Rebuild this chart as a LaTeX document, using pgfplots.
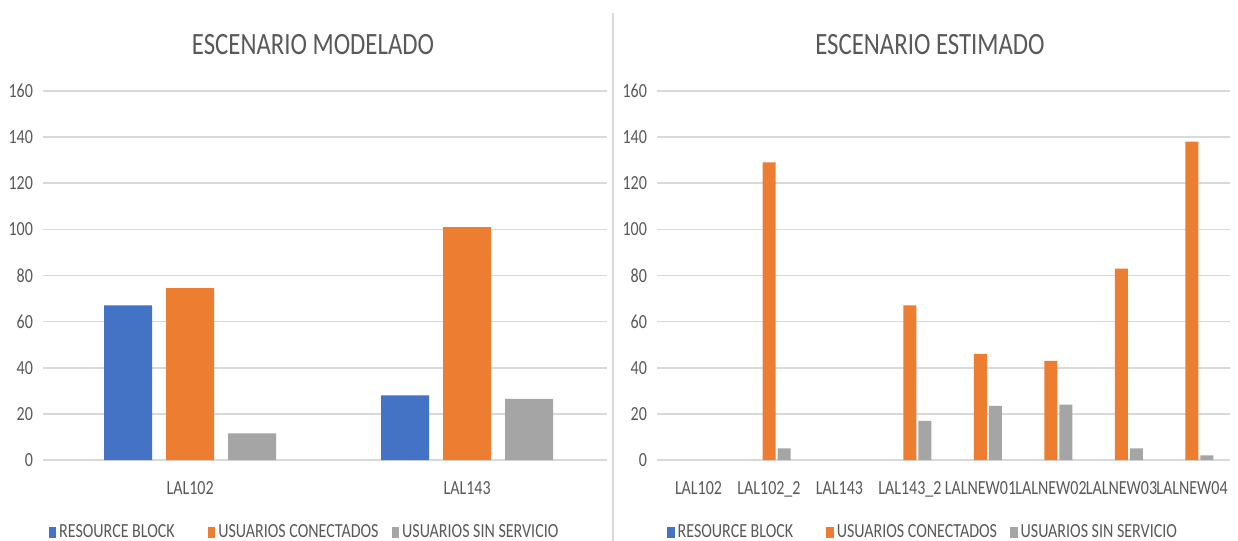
\documentclass[border=0pt]{standalone}
\usepackage{pgfplots}
\pgfplotsset{compat=1.18}
\usepackage{fontspec}
\setmainfont{Carlito}[FakeStretch=0.8]
\definecolor{cblue}{HTML}{4472C4}
\definecolor{corange}{HTML}{ED7D31}
\definecolor{cgray}{HTML}{A5A5A5}
\definecolor{gridgray}{HTML}{D9D9D9}
\definecolor{txtgray}{HTML}{595959}
\pgfplotsset{
  excelstyle/.style={
    scale only axis,
    anchor=south west,
    ymin=0, ymax=160,
    ytick={0,20,...,160},
    ymajorgrids,
    grid style={gridgray, line width=0.8pt},
    axis line style={draw=none},
    major tick length=0pt,
    tick style={draw=none},
    /pgf/number format/assume math mode=true,
    ticklabel style={text=txtgray, font=\fontsize{10}{12}\selectfont},
    yticklabel style={xshift=-1.5pt},
    xticklabel style={yshift=-7pt},
    legend columns=3,
    legend cell align=left,
    legend style={draw=none, fill=none, at={(0.5,0)}, anchor=north, xshift=-10pt, yshift=-30.5pt,
      font=\fontsize{10}{12}\selectfont, text=txtgray, inner sep=0pt,
      nodes={inner sep=1.5pt},
      /tikz/column 2/.style={column sep=15pt},
      /tikz/column 4/.style={column sep=5pt}},
  },
  sqlegend/.style={legend image code/.code={\fill[##1] (0pt,-2.6pt) rectangle (3.8pt,2.6pt);}},
}
\begin{document}
\begin{tikzpicture}[x=1pt,y=1pt]
\useasboundingbox (0,0) rectangle (619,270.5);
\fill[white] (0,0) rectangle (619,270.5);
\clip (0,0) rectangle (619,270.5);
\draw[gridgray, line width=0.8pt] (306.5,0) -- (306.5,264);
% Left chart
\begin{axis}[excelstyle,
  at={(21.5pt,40.5pt)}, width=282pt, height=184.5pt,
  xmin=-0.531, xmax=1.505,
  xtick={0,1}, xticklabels={LAL102,LAL143},
  ybar=7pt, bar width=24pt, sqlegend]
\addplot[fill=cblue, draw=none] coordinates {(0,67) (1,28)};
\addplot[fill=corange, draw=none] coordinates {(0,74.5) (1,101)};
\addplot[fill=cgray, draw=none] coordinates {(0,11.5) (1,26.5)};
\legend{RESOURCE BLOCK, USUARIOS CONECTADOS, USUARIOS SIN SERVICIO}
\end{axis}
% Right chart
\begin{axis}[excelstyle,
  at={(328.5pt,40.5pt)}, width=286.5pt, height=184.5pt,
  xmin=-0.589, xmax=7.54,
  xtick={0,...,7}, xticklabels={LAL102,LAL102\_2,LAL143,LAL143\_2,LALNEW01,LALNEW02,LALNEW03,LALNEW04},
  ybar=1pt, bar width=6.5pt, sqlegend]
\addplot[fill=none, draw=none,
  legend image code/.code={\fill[cblue] (0pt,-2.6pt) rectangle (3.8pt,2.6pt);}]
  coordinates {(0,0) (1,0) (2,0) (3,0) (4,0) (5,0) (6,0) (7,0)};
\addplot[fill=corange, draw=none, restrict y to domain=0.001:1000] coordinates {(0,0) (1,129) (2,0) (3,67) (4,46) (5,43) (6,83) (7,138)};
\addplot[fill=cgray, draw=none, restrict y to domain=0.001:1000] coordinates {(0,0) (1,5) (2,0) (3,17) (4,23.5) (5,24) (6,5) (7,2)};
\legend{RESOURCE BLOCK, USUARIOS CONECTADOS, USUARIOS SIN SERVICIO}
\end{axis}
\node[text=txtgray, font=\fontsize{15.5}{18}\selectfont] at (156.5,248) {ESCENARIO MODELADO};
\node[text=txtgray, font=\fontsize{15.5}{18}\selectfont] at (465,248) {ESCENARIO ESTIMADO};
\end{tikzpicture}
\end{document}
